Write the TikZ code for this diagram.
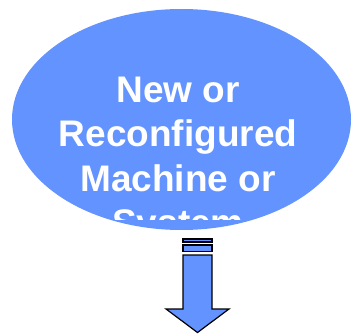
\documentclass[tikz,border=0pt]{standalone}
\usepackage{fontspec}
\setmainfont{Liberation Sans}
\usetikzlibrary{shapes.geometric}
\definecolor{skyblue}{RGB}{99,147,255}
\tikzset{
  caption/.style={text=white, font=\fontsize{37}{44}\selectfont\bfseries, anchor=base, inner sep=0pt},
  arrowpart/.style={fill=skyblue, draw=black, line width=1.2pt, line join=miter},
}
\begin{document}
\begin{tikzpicture}[x=1pt, y=-1pt]
  \useasboundingbox (0,0) rectangle (351,334);
  % oval holding the caption
  \node[ellipse, fill=skyblue, inner sep=0pt, minimum width=339pt, minimum height=221pt] (src) at (181.5,119.5) {};
  % caption, cut off at the lower edge of its text box
  \begin{scope}
    \clip (0,0) rectangle (351,220);
    \node[caption] (l1) at (178,103) {New or};
    \node[caption] (l2) at (178,147) {Reconfigured};
    \node[caption] (l3) at (178,191.5) {Machine or};
    \node[caption] (l4) at (178,235.5) {System};
  \end{scope}
  % striped block arrow pointing down
  \draw[arrowpart] (183,239) rectangle (212,242);
  \draw[arrowpart] (183,245) rectangle (212,251.5);
  \draw[arrowpart] (183,255) -- (212,255) -- (212,309) -- (229,309)
    -- (197.5,332.5) -- (166,309) -- (183,309) -- cycle;
\end{tikzpicture}
\end{document}
